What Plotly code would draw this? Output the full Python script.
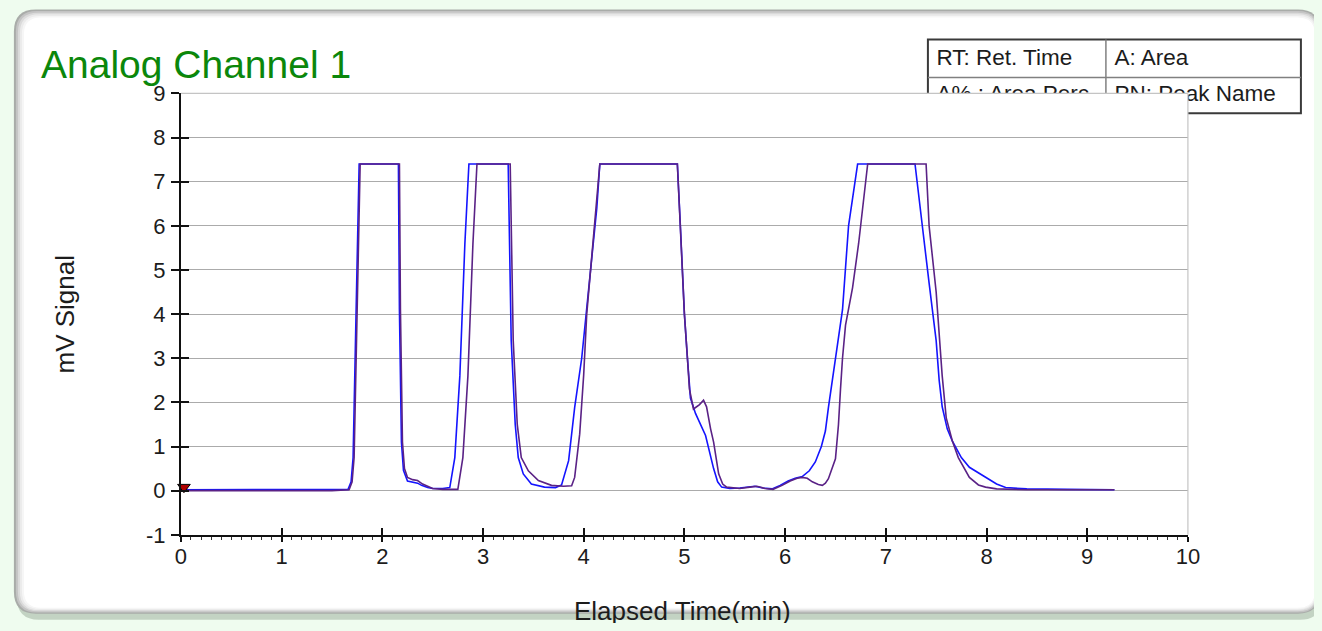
import plotly.graph_objects as go

# ---------------- data ----------------
t_blue = [0, 0.5, 1.0, 1.5, 1.66, 1.69, 1.71, 1.74, 1.77, 2.16, 2.17, 2.19, 2.21, 2.25, 2.30, 2.35,
          2.39, 2.45, 2.50, 2.60, 2.67, 2.72, 2.77, 2.82, 2.86, 3.25, 3.28, 3.32, 3.35, 3.40, 3.48,
          3.61, 3.72, 3.78, 3.85, 3.91, 3.98, 4.03, 4.08, 4.13, 4.16, 4.93, 4.96, 4.98, 5.00, 5.03,
          5.06, 5.11, 5.21, 5.29, 5.33, 5.37, 5.45, 5.55, 5.63, 5.70, 5.78, 5.87, 5.95, 6.03, 6.10,
          6.17, 6.24, 6.30, 6.36, 6.40, 6.43, 6.47, 6.50, 6.57, 6.63, 6.67, 6.72, 7.29, 7.36, 7.43,
          7.50, 7.53, 7.56, 7.61, 7.66, 7.75, 7.83, 7.92, 7.99, 8.10, 8.19, 8.40, 8.80, 9.27]
v_blue = [0.02, 0.02, 0.02, 0.02, 0.03, 0.2, 0.75, 4.1, 7.4, 7.4, 4.1, 1.1, 0.46, 0.22, 0.2, 0.17,
          0.12, 0.07, 0.05, 0.05, 0.07, 0.75, 2.6, 5.6, 7.4, 7.4, 3.4, 1.5, 0.75, 0.38, 0.15,
          0.08, 0.07, 0.13, 0.68, 1.88, 3.0, 4.1, 5.3, 6.4, 7.4, 7.4, 6.0, 5.0, 4.0, 3.0,
          2.1, 1.75, 1.25, 0.5, 0.2, 0.08, 0.05, 0.06, 0.09, 0.1, 0.06, 0.04, 0.12, 0.22, 0.28,
          0.32, 0.45, 0.65, 1.0, 1.35, 1.88, 2.5, 3.0, 4.1, 6.0, 6.65, 7.4, 7.4, 6.0, 4.7,
          3.4, 2.5, 1.9, 1.4, 1.13, 0.75, 0.53, 0.4, 0.3, 0.15, 0.07, 0.04, 0.03, 0.02]

t_purple = [0, 0.5, 1.0, 1.5, 1.67, 1.70, 1.72, 1.75, 1.78, 2.17, 2.18, 2.20, 2.22, 2.25, 2.30, 2.35,
            2.40, 2.45, 2.50, 2.60, 2.75, 2.80, 2.85, 2.90, 2.94, 3.27, 3.30, 3.34, 3.38, 3.45, 3.55,
            3.68, 3.80, 3.88, 3.91, 3.96, 4.00, 4.03, 4.07, 4.11, 4.16, 4.93, 4.96, 4.98, 5.00, 5.03,
            5.05, 5.09, 5.15, 5.19, 5.22, 5.26, 5.29, 5.34, 5.38, 5.42, 5.55, 5.65, 5.72, 5.80, 5.88,
            5.97, 6.05, 6.12, 6.17, 6.22, 6.27, 6.33, 6.37, 6.40, 6.43, 6.50, 6.53, 6.55, 6.57, 6.60,
            6.64, 6.67, 6.73, 6.77, 6.82, 7.40, 7.43, 7.50, 7.56, 7.60, 7.66, 7.72, 7.83, 7.92, 7.99,
            8.10, 8.40, 8.80, 9.27]
v_purple = [0.0, 0.0, 0.0, 0.0, 0.02, 0.2, 0.75, 4.1, 7.4, 7.4, 4.1, 1.1, 0.5, 0.3, 0.25, 0.23,
            0.15, 0.1, 0.05, 0.03, 0.03, 0.75, 2.6, 5.6, 7.4, 7.4, 3.4, 1.5, 0.75, 0.45, 0.23,
            0.12, 0.1, 0.11, 0.3, 1.28, 2.63, 4.0, 5.0, 6.1, 7.4, 7.4, 6.0, 5.0, 4.0, 3.0,
            2.3, 1.85, 1.95, 2.05, 1.9, 1.4, 1.1, 0.38, 0.15, 0.08, 0.05, 0.08, 0.1, 0.05, 0.03,
            0.12, 0.22, 0.28, 0.3, 0.28, 0.2, 0.14, 0.12, 0.17, 0.27, 0.72, 1.5, 2.3, 3.0, 3.75,
            4.2, 4.6, 5.6, 6.4, 7.4, 7.4, 6.0, 4.5, 2.6, 1.65, 1.13, 0.75, 0.3, 0.13, 0.08,
            0.04, 0.02, 0.02, 0.02]

marker_t = [0.03]
marker_v = [0.08]

x_ticks = list(range(0, 11))
y_ticks = list(range(-1, 10))
x_ticklabels = [str(v) for v in x_ticks]
y_ticklabels = [str(v) for v in y_ticks]
x_range = [0, 10]
y_range = [-1, 9]

table_labels = [["RT: Ret. Time", "A: Area"], ["A% : Area Perc", "PN: Peak Name"]]
title_text = "Analog Channel 1"
x_title = "Elapsed Time(min)"
y_title = "mV Signal"

# ---------------- geometry ----------------
# Positions are given in pixels of the 1322x631 frame. The figure area on the
# page (as measured from earlier renders) spans x 13.1..1301, y 19.5..610.3.
FX0, FW = 13.09, 1288.0
FY1, FH = 610.3, 590.8
PL, PR, PT, PB = 180, 1187, 93, 535   # plot area edges

FONT = "Arial, Liberation Sans, sans-serif"
TXT = "#1c1c1c"
BG = "#effcef"


def xp(px):
    return (px - FX0) / FW


def yp(py):
    return (FY1 - py) / FH


def rrect(x0, y0, x1, y1, r):
    P = lambda x, y: f"{xp(x):.5f},{yp(y):.5f}"
    return (f"M {P(x0 + r, y0)} L {P(x1 - r, y0)} Q {P(x1, y0)} {P(x1, y0 + r)} "
            f"L {P(x1, y1 - r)} Q {P(x1, y1)} {P(x1 - r, y1)} "
            f"L {P(x0 + r, y1)} Q {P(x0, y1)} {P(x0, y1 - r)} "
            f"L {P(x0, y0 + r)} Q {P(x0, y0)} {P(x0 + r, y0)} Z")


XD = [xp(PL), xp(PR)]
YD = [yp(PB), yp(PT)]

fig = go.Figure()

fig.add_trace(go.Scatter(x=t_blue, y=v_blue, mode="lines",
                         line=dict(color="#1414ff", width=1.6), hoverinfo="skip"))
fig.add_trace(go.Scatter(x=t_purple, y=v_purple, mode="lines",
                         line=dict(color="#5a2286", width=1.6), hoverinfo="skip"))
fig.add_trace(go.Scatter(x=marker_t, y=marker_v, mode="markers",
                         marker=dict(symbol="triangle-down", size=11, color="#b00000",
                                     line=dict(color="#000000", width=1)),
                         hoverinfo="skip", cliponaxis=False))
fig.add_trace(go.Scatter(x=[None], y=[None], xaxis="x2", yaxis="y2", showlegend=False))

TB_X0, TB_X1, TB_Y0, TB_Y1 = 927, 1300, 39, 113
TB_XM, TB_YM = 1105, 77
TFS = 22.5
col_left = [935.5, 1113.5]
row_mid = [67 - 0.347 * TFS, 103 - 0.347 * TFS]
tx, ty, tt = [], [], []
for ri, row in enumerate(table_labels):
    for ci, lab in enumerate(row):
        tx.append((col_left[ci] - TB_X0) / (TB_X1 - TB_X0))
        ty.append((TB_Y1 - row_mid[ri]) / (TB_Y1 - TB_Y0))
        tt.append(lab)
fig.add_trace(go.Scatter(x=tx, y=ty, text=tt, mode="text", textposition="middle right",
                         textfont=dict(family=FONT, size=TFS, color=TXT),
                         xaxis="x3", yaxis="y3", cliponaxis=False, hoverinfo="skip"))

shapes = []
shapes.append(dict(type="path", xref="paper", yref="paper", layer="below",
                   path=rrect(16, 12, 1321, 620, 22), fillcolor="#c3d3c3", line=dict(width=0)))
shapes.append(dict(type="path", xref="paper", yref="paper", layer="below",
                   path=rrect(13, 9, 1319, 614, 22), fillcolor="#a9aca9", line=dict(width=0)))
for ins, col in [(2, "#c4c4c4"), (4, "#dadada"), (6, "#ebebeb"), (8, "#f6f6f6"), (10, "#ffffff")]:
    shapes.append(dict(type="path", xref="paper", yref="paper", layer="below",
                       path=rrect(13 + ins, 9 + ins * 0.8, 1319 - ins * 0.5, 614 - ins * 0.6, 22 - ins * 0.5),
                       fillcolor=col, line=dict(width=0)))
tl = dict(xref="paper", yref="paper", layer="above")
shapes.append(dict(type="rect", x0=xp(TB_X0), x1=xp(TB_X1), y0=yp(TB_Y1), y1=yp(TB_Y0),
                   line=dict(color="#3a3a3a", width=2), **tl))
shapes.append(dict(type="line", x0=xp(TB_X0), x1=xp(TB_X1), y0=yp(TB_YM), y1=yp(TB_YM),
                   line=dict(color="#808080", width=1.5), **tl))
shapes.append(dict(type="line", x0=xp(TB_XM), x1=xp(TB_XM), y0=yp(TB_Y1), y1=yp(TB_Y0),
                   line=dict(color="#808080", width=1.5), **tl))
shapes.append(dict(type="rect", x0=xp(920), x1=XD[1], y0=yp(118), y1=YD[1],
                   fillcolor="#ffffff", line=dict(width=0), **tl))
shapes.append(dict(type="line", x0=XD[0], x1=XD[1], y0=YD[1], y1=YD[1],
                   line=dict(color="#c4c4c4", width=1.2), **tl))
shapes.append(dict(type="line", x0=XD[1], x1=XD[1], y0=YD[0], y1=YD[1],
                   line=dict(color="#c4c4c4", width=1.2), **tl))

annotations = [
    dict(text=title_text, xref="paper", yref="paper", x=xp(38.5), y=yp(64.5), xanchor="left",
         yanchor="middle", showarrow=False, font=dict(family=FONT, size=39, color="#0b870b")),
    dict(text=x_title, xref="paper", yref="paper", x=xp(682), y=yp(611), xanchor="center",
         yanchor="middle", showarrow=False, font=dict(family=FONT, size=26, color=TXT)),
    dict(text=y_title, xref="paper", yref="paper", x=xp(64), y=yp(313.5), xanchor="center",
         yanchor="middle", showarrow=False, textangle=-90, font=dict(family=FONT, size=26, color=TXT)),
]

fig.update_layout(
    autosize=True,
    margin=dict(l=0, r=0, t=0, b=0, pad=0),
    paper_bgcolor=BG, plot_bgcolor="#ffffff",
    showlegend=False,
    shapes=shapes, annotations=annotations,
    xaxis=dict(domain=XD, range=x_range, tickvals=x_ticks, ticktext=x_ticklabels, ticks="outside",
               ticklen=5, tickwidth=1.5,
               tickcolor="#111", showline=True, linecolor="#111", linewidth=2,
               showgrid=False, zeroline=False, tickfont=dict(family=FONT, size=22, color=TXT),
               ticklabelstandoff=-4,
               minor=dict(ticks="outside", ticklen=3, tickwidth=1, tickcolor="#333", dtick=0.1, showgrid=False),
               fixedrange=True),
    yaxis=dict(domain=YD, range=y_range, tickvals=y_ticks, ticktext=y_ticklabels, ticks="outside",
               ticklen=8, tickwidth=1.5,
               tickcolor="#111", showline=True, linecolor="#111", linewidth=2,
               showgrid=True, gridcolor="#ababab", gridwidth=1.3, zeroline=False,
               tickfont=dict(family=FONT, size=22, color=TXT), ticklabelstandoff=1,
               fixedrange=True),
    xaxis2=dict(domain=XD, overlaying="x", anchor="y2", range=x_range, tickvals=x_ticks, ticks="inside",
                ticklen=7, tickwidth=1.5, tickcolor="#111", showticklabels=False, showgrid=False,
                showline=False, zeroline=False),
    yaxis2=dict(domain=YD, overlaying="y", anchor="x2", range=y_range, tickvals=y_ticks, ticks="inside",
                ticklen=8, tickwidth=1.5, tickcolor="#111", showticklabels=False, showgrid=False,
                showline=False, zeroline=False),
    xaxis3=dict(domain=[xp(TB_X0), xp(TB_X1)], range=[0, 1], anchor="y3", visible=False),
    yaxis3=dict(domain=[yp(TB_Y1), yp(TB_Y0)], range=[0, 1], anchor="x3", visible=False),
)

post = ("document.body.style.background='%s';"
        "document.querySelectorAll('.main-svg').forEach(function(s){s.style.overflow='visible';});" % BG)

fig.write_html("out.html", config={"responsive": True, "displayModeBar": False},
               post_script=post)
